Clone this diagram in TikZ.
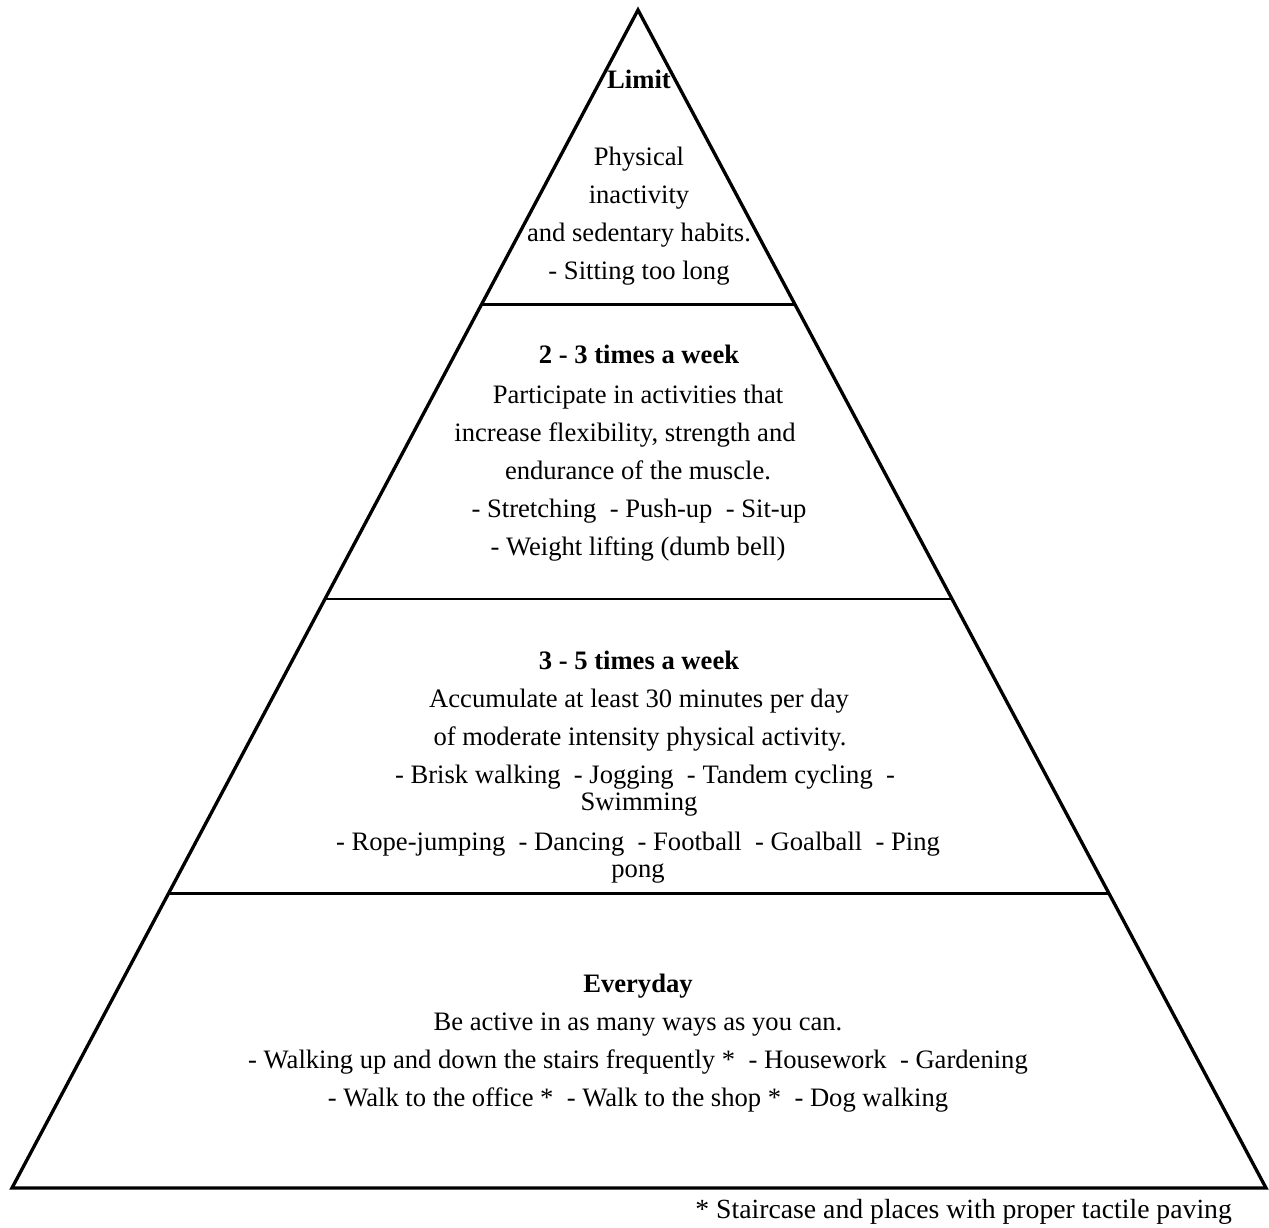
\documentclass[tikz,border=0pt]{standalone}
\usepackage{fontspec}
\setmainfont{Liberation Serif}
\usetikzlibrary{calc}
\tikzset{
  edge/.style={line width=1.5pt,line join=miter},
  tierline/.style={line width=1.2pt},
  txt/.style={anchor=base,inner sep=0pt,font=\fontsize{12}{14}\selectfont},
  head/.style={txt,font=\fontsize{12}{14}\selectfont\bfseries},
}

\begin{document}
\begin{tikzpicture}[x=0.451pt,y=-0.451pt]
  \useasboundingbox (0,0) rectangle (1269,1228);
  \coordinate (apex) at (638,10);
  \coordinate (bl) at (12,1188);
  \coordinate (br) at (1266,1188);
  \coordinate (l1) at ($(apex)!0.25!(bl)$);
  \coordinate (r1) at ($(apex)!0.25!(br)$);
  \coordinate (l2) at ($(apex)!0.5!(bl)$);
  \coordinate (r2) at ($(apex)!0.5!(br)$);
  \coordinate (l3) at ($(apex)!0.75!(bl)$);
  \coordinate (r3) at ($(apex)!0.75!(br)$);
  \draw[edge] (apex) -- (bl) -- (br) -- cycle;
  \draw[tierline] (l1) -- (r1);
  \draw[tierline] (l2) -- (r2);
  \draw[tierline] (l3) -- (r3);
  % top
  \node[head](limit) at (639,89){Limit};
  \node[txt](lim1) at (639,166){Physical};
  \node[txt](lim2) at (639,204){inactivity};
  \node[txt](lim3) at (639,242){and sedentary habits.};
  \node[txt](lim4) at (639,280){- Sitting too long};
  % 2-3 times
  \node[head](wk23) at (639,364){2 - 3 times a week};
  \node[txt](wk23a) at (638,404){Participate in activities that};
  \node[txt](wk23b) at (625,442){increase flexibility, strength and};
  \node[txt](wk23c) at (638,480){endurance of the muscle.};
  \node[txt](wk23d) at (639,518){- Stretching\ \ - Push-up\ \ - Sit-up};
  \node[txt](wk23e) at (638,556){- Weight lifting (dumb bell)};
  % 3-5 times
  \node[head](wk35) at (639,670){3 - 5 times a week};
  \node[txt](wk35a) at (639,708){Accumulate at least 30 minutes per day};
  \node[txt](wk35b) at (640,746){of moderate intensity physical activity.};
  \node[txt](wk35c) at (645,784){- Brisk walking\ \ - Jogging\ \ - Tandem cycling\ \ -};
  \node[txt](wk35d) at (639,811){Swimming};
  \node[txt](wk35e) at (638,851){- Rope-jumping\ \ - Dancing\ \ - Football\ \ - Goalball\ \ - Ping};
  \node[txt](wk35f) at (638,878){pong};
  % everyday
  \node[head](day) at (638,993){Everyday};
  \node[txt](daya) at (638,1031){Be active in as many ways as you can.};
  \node[txt](dayb) at (638,1069){- Walking up and down the stairs frequently *\ \ - Housework\ \ - Gardening};
  \node[txt](dayc) at (638,1107){- Walk to the office *\ \ - Walk to the shop *\ \ - Dog walking};
  \node[txt,anchor=base west,font=\fontsize{12.5}{14}\selectfont](note) at (695,1219){* Staircase and places with proper tactile paving};
\end{tikzpicture}
\end{document}
